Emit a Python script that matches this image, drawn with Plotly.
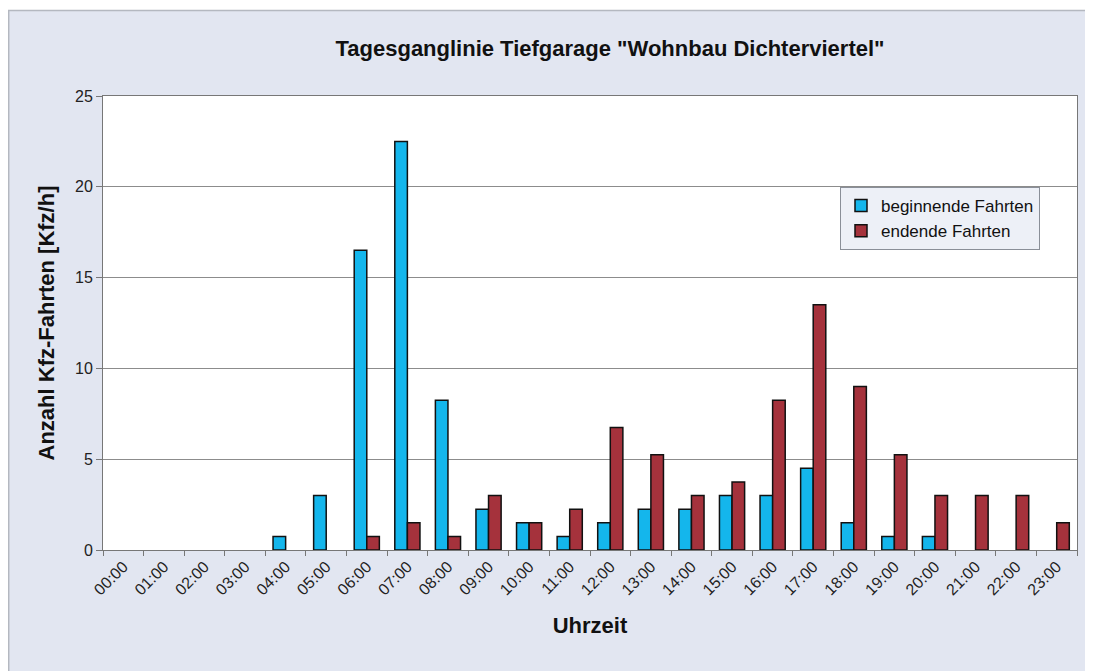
import plotly.graph_objects as go

hours = [f"{h:02d}:00" for h in range(24)]
beginnende = [0, 0, 0, 0, 0.75, 3, 16.5, 22.5, 8.25, 2.25, 1.5, 0.75,
              1.5, 2.25, 2.25, 3, 3, 4.5, 1.5, 0.75, 0.75, 0, 0, 0]
endende = [0, 0, 0, 0, 0, 0, 0.75, 1.5, 0.75, 3, 1.5, 2.25,
           6.75, 5.25, 3, 3.75, 8.25, 13.5, 9, 5.25, 3, 3, 3, 1.5]

# page has an 8px body margin -> figure is slightly smaller than the window
OFF = 8
W, H = 1093 - OFF, 671 - OFF
L, R, T, B = 95, 16, 88, 121
pw, ph = W - L - R, H - T - B


def px_x(p):  # screen x -> paper x
    return (p - OFF - L) / pw


def px_y(p):  # screen y -> paper y
    return (H - B - (p - OFF)) / ph


font = "Liberation Sans, Arial, sans-serif"


def nz(vals):
    # zero-valued hours draw no bar (no outline line at the baseline)
    return [v if v != 0 else None for v in vals]


fig = go.Figure()
fig.add_trace(go.Bar(x=hours, y=nz(beginnende), name="beginnende Fahrten",
                     marker=dict(color="#14b6ec", line=dict(color="#111111", width=1.5))))
fig.add_trace(go.Bar(x=hours, y=nz(endende), name="endende Fahrten",
                     marker=dict(color="#a5323c", line=dict(color="#111111", width=1.5))))

shapes = [
    dict(type="rect", xref="paper", yref="paper", x0=px_x(0), x1=px_x(1100), y0=px_y(10), y1=px_y(0),
         fillcolor="white", line=dict(width=0), layer="below"),
    dict(type="line", xref="paper", yref="paper", x0=px_x(8), x1=px_x(1100), y0=px_y(10.5), y1=px_y(10.5),
         line=dict(color="#b4b8c0", width=1.5)),
    dict(type="line", xref="paper", yref="paper", x0=px_x(8.7), x1=px_x(8.7), y0=px_y(10), y1=px_y(700),
         line=dict(color="#b4b8c0", width=1.5)),
]

fig.update_layout(
    width=W, height=H,
    margin=dict(l=L, r=R, t=T, b=B, pad=0),
    paper_bgcolor="#e2e6f1",
    plot_bgcolor="white",
    barmode="group",
    bargap=0.38,
    bargroupgap=0.0,
    font=dict(family=font, color="#222222"),
    title=dict(text='Tagesganglinie Tiefgarage "Wohnbau Dichterviertel"',
               x=px_x(610), xanchor="center", xref="paper",
               y=1 - (48 - OFF) / H, yanchor="middle",
               font=dict(size=22, family=font, color="#111111", weight="bold")),
    legend=dict(x=px_x(840), y=px_y(187), xanchor="left", yanchor="top",
                bgcolor="rgba(232,236,245,0.8)", bordercolor="#8a8f98", borderwidth=1,
                font=dict(size=17, color="#111111"), itemwidth=30, tracegroupgap=0),
    shapes=shapes,
    showlegend=True,
)

fig.update_xaxes(
    type="category",
    tickson="boundaries",
    ticks="outside", ticklen=5, tickcolor="#777777",
    tickangle=-45,
    tickfont=dict(size=16, color="#222222"),
    showline=True, linecolor="#777777", linewidth=1, mirror=True,
    showgrid=False,
    title=dict(text="Uhrzeit", font=dict(size=22, color="#111111", weight="bold"), standoff=20),
)
fig.update_yaxes(
    range=[0, 25], dtick=5,
    ticks="outside", ticklen=6, tickcolor="#777777",
    tickfont=dict(size=16, color="#222222"),
    showline=True, linecolor="#777777", linewidth=1, mirror=True,
    showgrid=True, gridcolor="#8c8c8c", gridwidth=1,
    zeroline=False,
    title=dict(text="Anzahl Kfz-Fahrten [Kfz/h]", font=dict(size=22, color="#111111", weight="bold"), standoff=14),
)

fig.write_html("out.html")
